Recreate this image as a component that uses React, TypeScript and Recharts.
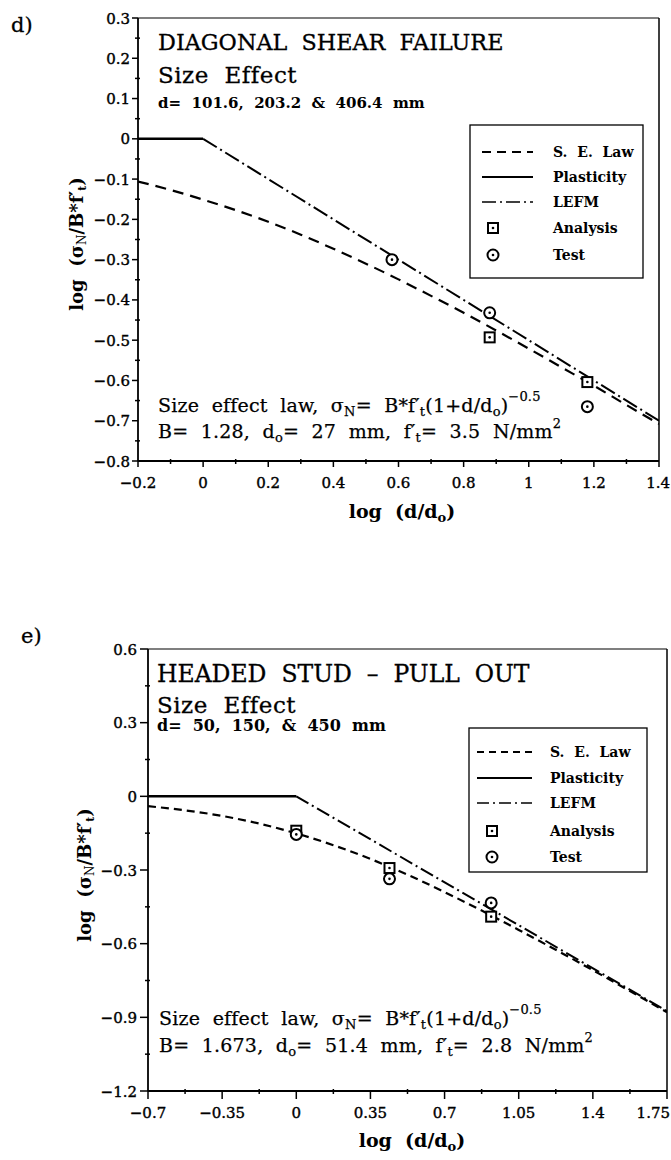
import React from 'react';
import { ComposedChart, Line, Scatter, XAxis, YAxis, ReferenceLine } from 'recharts';

// ---------- Chart d) : Diagonal shear failure ----------
const dXMajor = [-0.2, 0, 0.2, 0.4, 0.6, 0.8, 1.0, 1.2, 1.4];
const dXLabels = ['−0.2', '0', '0.2', '0.4', '0.6', '0.8', '1', '1.2', '1.4'];
const dXMinor = [-0.1, 0.1, 0.3, 0.5, 0.7, 0.9, 1.1, 1.3];
const dYMajor = [0.3, 0.2, 0.1, 0, -0.1, -0.2, -0.3, -0.4, -0.5, -0.6, -0.7, -0.8];
const dYLabels = ['0.3', '0.2', '0.1', '0', '−0.1', '−0.2', '−0.3', '−0.4', '−0.5', '−0.6', '−0.7', '−0.8'];
const dYMinor = [0.25, 0.15, 0.05, -0.05, -0.15, -0.25, -0.35, -0.45, -0.55, -0.65, -0.75];

const dSeLawX = [-0.2, -0.1, 0, 0.1, 0.2, 0.3, 0.4, 0.5, 0.6, 0.7, 0.8, 0.9, 1.0, 1.1, 1.2, 1.3, 1.4];
const dSeLawY = [-0.106, -0.127, -0.151, -0.177, -0.206, -0.238, -0.273, -0.31, -0.349, -0.39, -0.432, -0.476, -0.521, -0.567, -0.613, -0.661, -0.708];
const dPlastX = [-0.2, 0];
const dPlastY = [0, 0];
const dLefmX = [0, 1.4];
const dLefmY = [0, -0.7];
const dAnalysisX = [0.88, 1.18];
const dAnalysisY = [-0.493, -0.604];
const dTestX = [0.58, 0.88, 1.18];
const dTestY = [-0.30, -0.432, -0.665];

// ---------- Chart e) : Headed stud pull out ----------
const eXMajor = [-0.7, -0.35, 0, 0.35, 0.7, 1.05, 1.4, 1.75];
const eXLabels = ['−0.7', '−0.35', '0', '0.35', '0.7', '1.05', '1.4', '1.75'];
const eXMinor = [-0.525, -0.175, 0.175, 0.525, 0.875, 1.225, 1.575];
const eYMajor = [0.6, 0.3, 0, -0.3, -0.6, -0.9, -1.2];
const eYLabels = ['0.6', '0.3', '0', '−0.3', '−0.6', '−0.9', '−1.2'];
const eYMinor = [0.45, 0.15, -0.15, -0.45, -0.75, -1.05];

const eSeLawX = [-0.7, -0.525, -0.35, -0.175, 0, 0.175, 0.35, 0.525, 0.7, 0.875, 1.05, 1.225, 1.4, 1.575, 1.75];
const eSeLawY = [-0.04, -0.057, -0.08, -0.111, -0.151, -0.199, -0.255, -0.319, -0.39, -0.465, -0.544, -0.625, -0.708, -0.793, -0.879];
const ePlastX = [-0.7, 0];
const ePlastY = [0, 0];
const eLefmX = [0, 1.75];
const eLefmY = [0, -0.875];
const eAnalysisX = [0, 0.44, 0.92];
const eAnalysisY = [-0.14, -0.292, -0.49];
const eTestX = [0, 0.44, 0.92];
const eTestY = [-0.155, -0.336, -0.434];

const zip = (xs: number[], ys: number[]) => xs.map((x, i) => ({ x, y: ys[i] }));

const FONT = '"DejaVu Serif", "Liberation Serif", serif';

const makeXTick = (majors: number[], labels: string[], len: number, dy: number) => (props: any) => {
  const { x, y, payload } = props;
  const idx = majors.findIndex((m) => Math.abs(m - payload.value) < 1e-6);
  const major = idx >= 0;
  const label = major ? labels[idx] : '';
  const half = label.length * 4.6;
  const tooFar = x + half > 670;
  return (
    <g>
      <line x1={x} x2={x} y1={major ? y : y - 2} y2={y + (major ? len : 3)} stroke="#000" strokeWidth={1.5} />
      {major && (
        <text
          x={tooFar ? 670 : x}
          y={y + dy}
          textAnchor={tooFar ? 'end' : 'middle'}
          fontFamily={FONT}
          fontSize={15}
          fill="#000"
          stroke="#000"
          strokeWidth={0.4}
        >
          {label}
        </text>
      )}
    </g>
  );
};

const makeYTick = (majors: number[], labels: string[], len: number, gap: number) => (props: any) => {
  const { x, y, payload } = props;
  const idx = majors.findIndex((m) => Math.abs(m - payload.value) < 1e-6);
  const major = idx >= 0;
  return (
    <g>
      <line x1={major ? x - len : x - 3} x2={major ? x : x + 2} y1={y} y2={y} stroke="#000" strokeWidth={1.5} />
      {major && (
        <text x={x - gap} y={y + 5.5} textAnchor="end" fontFamily={FONT} fontSize={15} fill="#000" stroke="#000" strokeWidth={0.4}>
          {labels[idx]}
        </text>
      )}
    </g>
  );
};

const SquareShape = (props: any) => {
  const { cx, cy } = props;
  return (
    <g>
      <rect x={cx - 5} y={cy - 5} width={10} height={10} fill="#fff" stroke="#000" strokeWidth={2} />
      <circle cx={cx} cy={cy} r={1.3} fill="#000" />
    </g>
  );
};

const CircleShape = (props: any) => {
  const { cx, cy } = props;
  return (
    <g>
      <circle cx={cx} cy={cy} r={5.5} fill="#fff" stroke="#000" strokeWidth={2} />
      <circle cx={cx} cy={cy} r={1.3} fill="#000" />
    </g>
  );
};

type PanelProps = {
  top: number;
  height: number;
  yAxisWidth: number;
  marginTop: number;
  marginRight: number;
  xAxisHeight: number;
  xDomain: [number, number];
  yDomain: [number, number];
  xMajor: number[];
  xLabels: string[];
  xMinor: number[];
  yMajor: number[];
  yLabels: string[];
  yMinor: number[];
  tickLen: number;
  yGap: number;
  seLaw: { x: number; y: number }[];
  plast: { x: number; y: number }[];
  lefm: { x: number; y: number }[];
  analysis: { x: number; y: number }[];
  test: { x: number; y: number }[];
  seDash: string;
  lefmDash: string;
};

const Panel = (p: PanelProps) => (
  <div style={{ position: 'absolute', left: 0, top: p.top }}>
    <ComposedChart
      width={671}
      height={p.height}
      margin={{ top: p.marginTop, right: p.marginRight, bottom: 0, left: 0 }}
    >
      <XAxis
        type="number"
        dataKey="x"
        domain={p.xDomain}
        ticks={[...p.xMajor, ...p.xMinor]}
        interval={0}
        allowDataOverflow
        height={p.xAxisHeight}
        tickSize={0}
        tickMargin={0}
        tickLine={false}
        axisLine={{ stroke: '#000', strokeWidth: 1.8 }}
        tick={makeXTick(p.xMajor, p.xLabels, p.tickLen, 27)}
      />
      <YAxis
        type="number"
        dataKey="y"
        domain={p.yDomain}
        ticks={[...p.yMajor, ...p.yMinor]}
        interval={0}
        allowDataOverflow
        width={p.yAxisWidth}
        tickSize={0}
        tickMargin={0}
        tickLine={false}
        axisLine={{ stroke: '#000', strokeWidth: 1.8 }}
        tick={makeYTick(p.yMajor, p.yLabels, p.tickLen, p.yGap)}
      />
      <ReferenceLine y={p.yDomain[1]} stroke="#000" strokeWidth={1.2} />
      <ReferenceLine x={p.xDomain[1]} stroke="#000" strokeWidth={1.5} />
      <Line data={p.plast} dataKey="y" type="linear" stroke="#000" strokeWidth={2.5} dot={false} isAnimationActive={false} />
      <Line data={p.lefm} dataKey="y" type="linear" stroke="#000" strokeWidth={2} strokeDasharray={p.lefmDash} dot={false} isAnimationActive={false} />
      <Line data={p.seLaw} dataKey="y" type="monotone" stroke="#000" strokeWidth={2.2} strokeDasharray={p.seDash} dot={false} isAnimationActive={false} />
      <Scatter data={p.analysis} dataKey="y" shape={SquareShape} isAnimationActive={false} />
      <Scatter data={p.test} dataKey="y" shape={CircleShape} isAnimationActive={false} />
    </ComposedChart>
  </div>
);

const Legend = ({ x, y, w, h, rows, lx1, lx2, tx, mx, seDash, lefmDash }: any) => (
  <g>
    <rect x={x} y={y} width={w} height={h} fill="#fff" stroke="#000" strokeWidth={1.3} />
    <line x1={lx1} x2={lx2} y1={rows[0]} y2={rows[0]} stroke="#000" strokeWidth={2.2} strokeDasharray={seDash} />
    <line x1={lx1} x2={lx2} y1={rows[1]} y2={rows[1]} stroke="#000" strokeWidth={2} />
    <line x1={lx1} x2={lx2} y1={rows[2]} y2={rows[2]} stroke="#000" strokeWidth={1.6} strokeDasharray={lefmDash} />
    <SquareShape cx={mx} cy={rows[3]} />
    <CircleShape cx={mx} cy={rows[4]} />
    {['S.  E.  Law', 'Plasticity', 'LEFM', 'Analysis', 'Test'].map((t, i) => (
      <text key={t} x={tx} y={rows[i] + 5} fontFamily={FONT} fontWeight="bold" fontSize={14} fill="#000" style={{ whiteSpace: 'pre' }}>
        {t}
      </text>
    ))}
  </g>
);

const Formula = ({ x, y1, y2, B, d0, ft }: any) => (
  <g fontFamily={FONT} fontSize={19} fill="#000" stroke="#000" strokeWidth={0.25} letterSpacing={0.2}>
    <text x={x} y={y1} style={{ whiteSpace: 'pre' }}>
      {'Size  effect  law,  σ'}
      <tspan fontSize={13} dy={4}>N</tspan>
      <tspan dy={-4}>{'=  B*f′'}</tspan>
      <tspan fontSize={13} dy={4}>t</tspan>
      <tspan dy={-4}>(1+d/d</tspan>
      <tspan fontSize={13} dy={4}>o</tspan>
      <tspan dy={-4}>)</tspan>
      <tspan fontSize={13} dy={-11}>−0.5</tspan>
    </text>
    <text x={x} y={y2} style={{ whiteSpace: 'pre' }}>
      {`B=  ${B},  d`}
      <tspan fontSize={13} dy={4}>o</tspan>
      <tspan dy={-4}>{`=  ${d0}  mm,  f′`}</tspan>
      <tspan fontSize={13} dy={4}>t</tspan>
      <tspan dy={-4}>{`=  ${ft}  N/mm`}</tspan>
      <tspan fontSize={13} dy={-10}>2</tspan>
    </text>
  </g>
);

const YLabel = ({ cx, cy }: any) => (
  <text
    x={cx}
    y={cy}
    transform={`rotate(-90, ${cx}, ${cy})`}
    textAnchor="middle"
    fontFamily={FONT}
    fontWeight="bold"
    fontSize={18}
    fill="#000"
    style={{ whiteSpace: 'pre' }}
  >
    {'log  (σ'}
    <tspan fontSize={12} fontWeight="normal" dy={3}>N</tspan>
    <tspan dy={-3}>/B*f′</tspan>
    <tspan fontSize={11} dy={3}>t</tspan>
    <tspan dy={-3}>)</tspan>
  </text>
);

const XLabel = ({ cx, y }: any) => (
  <text x={cx} y={y} textAnchor="middle" fontFamily={FONT} fontWeight="bold" fontSize={19} fill="#000" style={{ whiteSpace: 'pre' }}>
    {'log  (d/d'}
    <tspan fontSize={13} dy={4}>o</tspan>
    <tspan dy={-4}>)</tspan>
  </text>
);

export default function App() {
  return (
    <div style={{ position: 'absolute', left: 0, top: 0, width: 671, height: 1160, background: '#fff' }}>
      <Panel
        top={0}
        height={540}
        yAxisWidth={138}
        marginTop={18}
        marginRight={12}
        xAxisHeight={79}
        xDomain={[-0.2, 1.4]}
        yDomain={[-0.8, 0.3]}
        xMajor={dXMajor}
        xLabels={dXLabels}
        xMinor={dXMinor}
        yMajor={dYMajor}
        yLabels={dYLabels}
        yMinor={dYMinor}
        tickLen={6}
        yGap={8}
        seLaw={zip(dSeLawX, dSeLawY)}
        plast={zip(dPlastX, dPlastY)}
        lefm={zip(dLefmX, dLefmY)}
        analysis={zip(dAnalysisX, dAnalysisY)}
        test={zip(dTestX, dTestY)}
        seDash="11 7"
        lefmDash="16 4 2 4"
      />
      <Panel
        top={620}
        height={540}
        yAxisWidth={148}
        marginTop={29}
        marginRight={4}
        xAxisHeight={69}
        xDomain={[-0.7, 1.75]}
        yDomain={[-1.2, 0.6]}
        xMajor={eXMajor}
        xLabels={eXLabels}
        xMinor={eXMinor}
        yMajor={eYMajor}
        yLabels={eYLabels}
        yMinor={eYMinor}
        tickLen={8}
        yGap={11}
        seLaw={zip(eSeLawX, eSeLawY)}
        plast={zip(ePlastX, ePlastY)}
        lefm={zip(eLefmX, eLefmY)}
        analysis={zip(eAnalysisX, eAnalysisY)}
        test={zip(eTestX, eTestY)}
        seDash="8 5"
        lefmDash="14 4 2 4"
      />
      <svg width={671} height={1160} style={{ position: 'absolute', left: 0, top: 0, pointerEvents: 'none' }}>
        {/* panel labels */}
        <text x={11} y={32} fontFamily={FONT} fontSize={21} fill="#000" stroke="#000" strokeWidth={0.3}>d)</text>
        <text x={21} y={643} fontFamily={FONT} fontSize={21} fill="#000" stroke="#000" strokeWidth={0.3}>e)</text>

        {/* chart d texts */}
        <g fontFamily={FONT} fill="#000" stroke="#000" strokeWidth={0.3}>
          <text x={158} y={50} fontSize={22.3} style={{ whiteSpace: 'pre' }}>{'DIAGONAL  SHEAR  FAILURE'}</text>
          <text x={158} y={83} fontSize={23} letterSpacing={0.5} style={{ whiteSpace: 'pre' }}>{'Size  Effect'}</text>
          <text x={158} y={108} fontSize={15} fontWeight="bold" strokeWidth={0} style={{ whiteSpace: 'pre' }}>{'d=  101.6,  203.2  &  406.4  mm'}</text>
        </g>
        <Legend x={470} y={125} w={173} h={153} rows={[152, 177, 202, 228, 255]} lx1={482} lx2={533} tx={553} mx={493} seDash="9 6" lefmDash="14 4 2 4" />
        <Formula x={158} y1={412} y2={438} B="1.28" d0="27" ft="3.5" />
        <XLabel cx={402} y={518} />
        <YLabel cx={83} cy={244} />

        {/* chart e texts */}
        <g fontFamily={FONT} fill="#000" stroke="#000" strokeWidth={0.3}>
          <text x={157} y={682} fontSize={23.5} style={{ whiteSpace: 'pre' }}>{'HEADED  STUD  –  PULL  OUT'}</text>
          <text x={157} y={713} fontSize={23} letterSpacing={0.5} style={{ whiteSpace: 'pre' }}>{'Size  Effect'}</text>
          <text x={157} y={731} fontSize={16} fontWeight="bold" strokeWidth={0} style={{ whiteSpace: 'pre' }}>{'d=  50,  150,  &  450  mm'}</text>
        </g>
        <Legend x={469} y={728} w={178} h={144} rows={[752, 778, 803, 831, 857]} lx1={477} lx2={532} tx={550} mx={492} seDash="7 5" lefmDash="12 4 2 4" />
        <Formula x={159} y1={1025} y2={1052} B="1.673" d0="51.4" ft="2.8" />
        <XLabel cx={412} y={1147} />
        <YLabel cx={91} cy={875} />
      </svg>
    </div>
  );
}
